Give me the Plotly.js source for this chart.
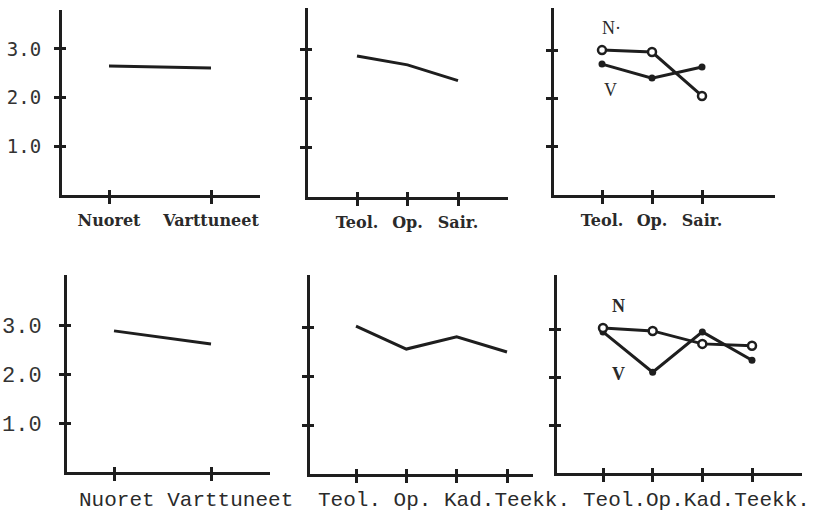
<!DOCTYPE html>
<html><head><meta charset="utf-8">
<script src="https://cdn.plot.ly/plotly-3.0.1.min.js"></script>
<style>html,body{margin:0;padding:0;background:#fff}#chart{width:815px;height:514px}</style>
</head><body><div id="chart"></div>
<script>
// ---- data ----
const yTickVals = [1, 2, 3];
const yTickText = ["1.0", "2.0", "3.0"];
const catsAge = ["Nuoret", "Varttuneet"];
const catsTop = ["Teol.", "Op.", "Sair."];
const catsBottom = ["Teol.", "Op.", "Kad.", "Teekk."];
const ageTop = [2.65, 2.61];
const fieldTop = [2.86, 2.68, 2.36];
const nTop = [3.00, 2.96, 2.05];
const vTop = [2.71, 2.42, 2.65];
const ageBottom = [2.88, 2.61];
const fieldBottom = [3.02, 2.55, 2.80, 2.49];
const nBottom = [3.02, 2.96, 2.69, 2.65];
const vBottom = [2.94, 2.10, 2.94, 2.35];
const bottomTickText = ["Nuoret Varttuneet", "Teol. Op. Kad.Teekk.", "Teol.Op.Kad.Teekk."];
const groupLabelsTop = ["N·", "V"];
const groupLabelsBottom = ["N", "V"];

// ---- layout geometry (pixels) ----
const W = 815, H = 514;
const INK = "#1e1e1e";
const panels = [
  {x0: 62,  x1: 260, yt: 10,  yb: 195, f: 109, l: 211, cats: catsAge,    unit: 48.7},
  {x0: 308, x1: 508, yt: 8,   yb: 197, f: 357, l: 458, cats: catsTop,    unit: 49.3},
  {x0: 554, x1: 775, yt: 8,   yb: 195, f: 602, l: 702, cats: catsTop,    unit: 48.3},
  {x0: 67,  x1: 270, yt: 275, yb: 472, f: 114, l: 211, cats: catsAge,    unit: 49.0},
  {x0: 310, x1: 533, yt: 275, yb: 474, f: 356, l: 507, cats: catsBottom, unit: 49.0},
  {x0: 557, x1: 802, yt: 275, yb: 473, f: 603, l: 752, cats: catsBottom, unit: 48.0}
];

const layout = {
  width: W, height: H,
  margin: {l: 0, r: 0, t: 0, b: 0},
  paper_bgcolor: "#ffffff", plot_bgcolor: "rgba(0,0,0,0)",
  showlegend: false,
  annotations: [],
};
const traces = [];

panels.forEach((p, i) => {
  const n = p.cats.length;
  const cu = (p.l - p.f) / (n - 1);
  const xr = [(p.x0 - p.f) / cu, (n - 1) + (p.x1 - p.l) / cu];
  const yr = [0, (p.yb - p.yt) / p.unit];
  const xd = [p.x0 / W, p.x1 / W];
  const yd = [(H - p.yb) / H, (H - p.yt) / H];
  const k = i + 1, ko = i + 7;
  const xn = k === 1 ? "xaxis" : "xaxis" + k;
  const yn = k === 1 ? "yaxis" : "yaxis" + k;
  const xid = k === 1 ? "x" : "x" + k;
  const yid = k === 1 ? "y" : "y" + k;
  const top = i < 3;
  const xTickIdx = p.cats.map((c, j) => j);

  layout[xn] = {
    domain: xd, range: xr, anchor: yid, fixedrange: true,
    showline: true, linecolor: INK, linewidth: 3, showgrid: false, zeroline: false,
    tickmode: "array", tickvals: xTickIdx, ticktext: p.cats,
    ticks: "outside", ticklen: 6, tickwidth: 3, tickcolor: INK,
    showticklabels: top, ticklabelstandoff: 3,
    tickfont: {family: "DejaVu Serif", size: 16, weight: "bold", color: "#2a2a2a"}
  };
  layout[yn] = {
    domain: yd, range: yr, anchor: xid, fixedrange: true,
    showline: true, linecolor: INK, linewidth: 3, showgrid: false, zeroline: false,
    tickmode: "array", tickvals: yTickVals, ticktext: yTickText,
    ticks: "outside", ticklen: 5, tickwidth: 3, tickcolor: INK,
    showticklabels: (i === 0 || i === 3), ticklabelstandoff: i === 0 ? 9 : 13,
    tickfont: i === 0 ? {family: "DejaVu Sans Mono", size: 19, color: "#333"}
                      : {family: "Liberation Mono", size: 22, color: "#333"}
  };
  // overlay axes carrying the inner half of the crossing ticks
  layout["xaxis" + ko] = {
    overlaying: xid, anchor: yid, range: xr, fixedrange: true,
    showline: false, showgrid: false, zeroline: false, showticklabels: false,
    tickmode: "array", tickvals: xTickIdx,
    ticks: "inside", ticklen: 5, tickwidth: 3, tickcolor: INK
  };
  layout["yaxis" + ko] = {
    overlaying: yid, anchor: xid, range: yr, fixedrange: true,
    showline: false, showgrid: false, zeroline: false, showticklabels: false,
    tickmode: "array", tickvals: yTickVals,
    ticks: "inside", ticklen: 4, tickwidth: 3, tickcolor: INK
  };
  traces.push({x: [], y: [], xaxis: "x" + ko, yaxis: yid, type: "scatter", hoverinfo: "skip"});
  traces.push({x: [], y: [], xaxis: xid, yaxis: "y" + ko, type: "scatter", hoverinfo: "skip"});

  p.xid = xid; p.yid = yid; p.idx = xTickIdx;
});

function lineTrace(p, y) {
  return {x: p.idx, y: y, xaxis: p.xid, yaxis: p.yid, type: "scatter", mode: "lines",
          line: {color: INK, width: 3}, hoverinfo: "skip"};
}
function nTrace(p, y) {
  return {x: p.idx, y: y, xaxis: p.xid, yaxis: p.yid, type: "scatter", mode: "lines+markers",
          line: {color: INK, width: 3},
          marker: {symbol: "circle", size: 8, color: "#ffffff", line: {color: INK, width: 2.5}},
          hoverinfo: "skip"};
}
function vTrace(p, y) {
  return {x: p.idx, y: y, xaxis: p.xid, yaxis: p.yid, type: "scatter", mode: "lines+markers",
          line: {color: INK, width: 3},
          marker: {symbol: "circle", size: 7, color: INK},
          hoverinfo: "skip"};
}

traces.push(lineTrace(panels[0], ageTop));
traces.push(lineTrace(panels[1], fieldTop));
traces.push(vTrace(panels[2], vTop));
traces.push(nTrace(panels[2], nTop));
traces.push(lineTrace(panels[3], ageBottom));
traces.push(lineTrace(panels[4], fieldBottom));
traces.push(vTrace(panels[5], vBottom));
traces.push(nTrace(panels[5], nBottom));

// bottom row category text (typed line)
const bottomLeft = [77, 316, 581];
bottomTickText.forEach((t, j) => {
  layout.annotations.push({
    text: t, xref: "paper", yref: "paper", x: bottomLeft[j] / W, y: (H - 500) / H,
    xanchor: "left", yanchor: "middle", showarrow: false,
    font: {family: "Liberation Mono", size: 21, color: "#2a2a2a"}
  });
});
// group labels
const gpos = [[611, 28], [610, 90], [618, 306], [618, 374]];
groupLabelsTop.concat(groupLabelsBottom).forEach((t, j) => {
  layout.annotations.push({
    text: t, xref: "paper", yref: "paper", x: gpos[j][0] / W, y: (H - gpos[j][1]) / H,
    xanchor: "center", yanchor: "middle", showarrow: false,
    font: {family: "Liberation Serif", size: 18, weight: j >= 2 ? "bold" : "normal", color: "#2a2a2a"}
  });
});

Plotly.newPlot("chart", traces, layout, {staticPlot: true, displayModeBar: false});
</script>
</body></html>
